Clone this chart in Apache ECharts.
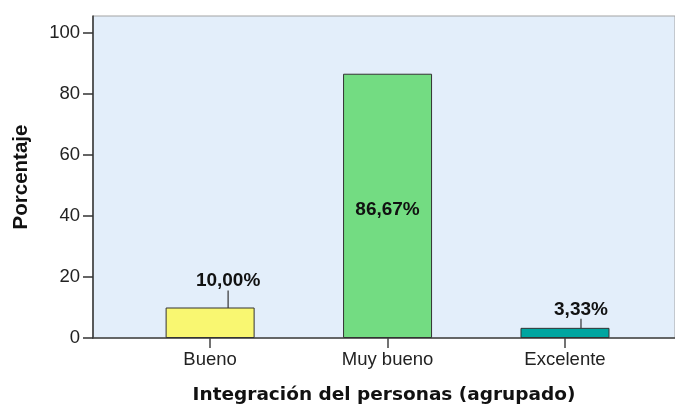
<!DOCTYPE html>
<html>
<head>
<meta charset="utf-8">
<script src="https://cdn.jsdelivr.net/npm/echarts@6/dist/echarts.min.js"></script>
<style>
  html, body { margin: 0; padding: 0; background: #fff; }
  #chart { width: 675px; height: 405px; }
</style>
</head>
<body>
<div id="chart"></div>
<script>
// data
const categories = ['Bueno', 'Muy bueno', 'Excelente'];
const positions = [1, 2, 3];
const percents = [10.00, 86.67, 3.33];
const barColors = ['#f9f771', '#73dc82', '#00a5a0'];
const yTicks = [0, 20, 40, 60, 80, 100];

const fmt = v => v.toFixed(2).replace('.', ',') + '%';
const labelShift = [{ dx: 18, dy: -15 }, { dx: 0, dy: 4 }, { dx: 16, dy: -7 }];

let chart = echarts.init(document.getElementById('chart'));

let barData = percents.map((v, i) => ({
	value: [positions[i], v],
	itemStyle: { color: barColors[i] },
	label: v > 50 ? { position: 'inside' } : { position: 'top', distance: 2 },
	labelLine: { show: v <= 50 }
}));

chart.setOption({
	animation: false,
	grid: {
		left: 93, right: 0, top: 16, bottom: 67,
		outerBoundsMode: 'none',
		containLabel: false,
		show: true,
		backgroundColor: '#e3eefa',
		borderColor: '#a3a3a3',
		borderWidth: 1
	},
	xAxis: {
		type: 'value',
		min: 0.34, max: 3.62,
		name: 'Integración del personas (agrupado)',
		nameLocation: 'middle',
		nameGap: 48,
		nameTextStyle: { fontFamily: 'DejaVu Sans', fontWeight: 'bold', fontSize: 18.5, color: '#111' },
		splitLine: { show: false },
		axisLine: { lineStyle: { color: '#444', width: 1.5 } },
		axisTick: { customValues: positions, length: 10, lineStyle: { color: '#444', width: 1.5 } },
		axisLabel: {
			customValues: positions,
			formatter: v => categories[positions.indexOf(v)] || '',
			fontFamily: 'Liberation Sans, Arial', fontSize: 18.5, color: '#222', margin: 12
		}
	},
	yAxis: {
		type: 'value',
		min: 0, max: 105.6,
		name: 'Porcentaje',
		nameLocation: 'middle',
		nameGap: 61,
		nameTextStyle: { fontFamily: 'Liberation Sans, Arial', fontWeight: 'bold', fontSize: 20.5, color: '#111' },
		splitLine: { show: false },
		axisLine: { show: true, lineStyle: { color: '#333', width: 1.5 } },
		axisTick: { show: true, customValues: yTicks, length: 10, lineStyle: { color: '#333', width: 1.5 } },
		axisLabel: { customValues: yTicks, fontFamily: 'Liberation Sans, Arial', fontSize: 18.5, color: '#222', margin: 13 }
	},
	series: [{
		type: 'bar',
		barWidth: 89,
		data: barData,
		itemStyle: { borderColor: '#333', borderWidth: 1 },
		label: {
			show: true,
			formatter: p => fmt(p.value[1]),
			fontFamily: 'Liberation Sans, Arial',
			fontWeight: 'bold',
			fontSize: 19,
			color: '#111'
		},
		labelLayout: p => labelShift[p.dataIndex],
		labelLine: { lineStyle: { color: '#333', width: 1.2 } }
	}]
});
</script>
</body>
</html>
